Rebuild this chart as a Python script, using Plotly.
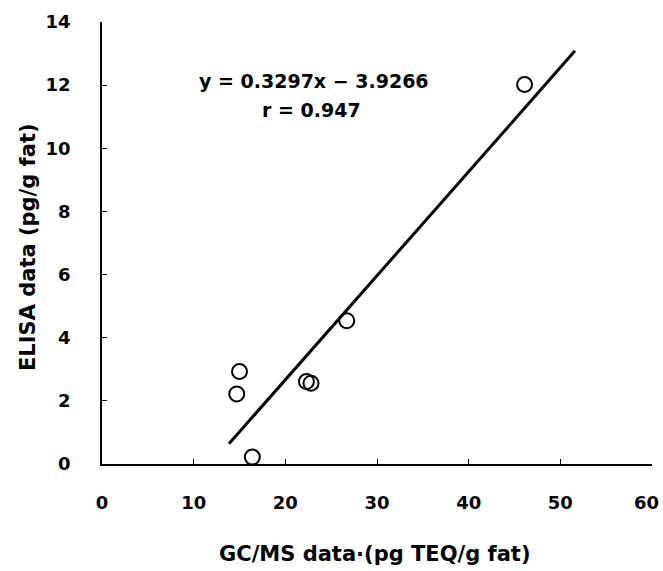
import plotly.graph_objects as go

gcms = [15.0, 14.7, 16.4, 22.3, 22.8, 26.7, 46.1]
elisa = [2.93, 2.22, 0.22, 2.61, 2.56, 4.54, 12.02]
slope = 0.3297
intercept = -3.9266
fit_x = [13.85, 51.6]
fit_y = [slope * v + intercept for v in fit_x]
x_ticks = [0, 10, 20, 30, 40, 50, 60]
y_ticks = [0, 2, 4, 6, 8, 10, 12, 14]

FONT = "DejaVu Sans"

# last x tick label is drawn as an annotation (nudged left so it stays inside the page)
x_ticktext = [f"<b>{v}</b>" for v in x_ticks[:-1]] + [""]

fig = go.Figure()
fig.add_trace(go.Scatter(x=fit_x, y=fit_y, mode="lines",
                         line=dict(color="black", width=3), showlegend=False))
fig.add_trace(go.Scatter(x=gcms, y=elisa, mode="markers",
                         marker=dict(symbol="circle-open", size=15, color="black",
                                     line=dict(width=2, color="black")),
                         showlegend=False))

fig.add_annotation(x=x_ticks[-1], y=-0.0882, xref="x", yref="paper", xshift=-6,
                   text=f"<b>{x_ticks[-1]}</b>", showarrow=False,
                   xanchor="center", yanchor="middle",
                   font=dict(family=FONT, size=18, color="black"))

fig.add_annotation(x=23.1, y=12.13, xref="x", yref="y",
                   text="<b>y = 0.3297x − 3.9266</b>", showarrow=False,
                   xanchor="center", yanchor="middle",
                   font=dict(family=FONT, size=19, color="black"))
fig.add_annotation(x=22.9, y=11.21, xref="x", yref="y",
                   text="<b>r = 0.947</b>", showarrow=False,
                   xanchor="center", yanchor="middle",
                   font=dict(family=FONT, size=19, color="black"))

# axis titles placed as annotations
fig.add_annotation(x=-0.1345, y=0.491, xref="paper", yref="paper",
                   text="<b>ELISA data (pg/g fat)</b>", showarrow=False, textangle=-90,
                   xanchor="center", yanchor="middle",
                   font=dict(family=FONT, size=21, color="black"))
fig.add_annotation(x=0.4964, y=-0.2036, xref="paper", yref="paper",
                   text="<b>GC/MS data·(pg TEQ/g fat)</b>", showarrow=False,
                   xanchor="center", yanchor="middle",
                   font=dict(family=FONT, size=21, color="black"))

fig.update_layout(
    width=663, height=571,
    margin=dict(l=102, r=11, t=22, b=107),
    plot_bgcolor="white", paper_bgcolor="white",
    font=dict(family=FONT, color="black"),
)
fig.update_xaxes(range=[0, 60], tickvals=x_ticks, ticktext=x_ticktext,
                 showline=True, linecolor="black", linewidth=1.5, mirror=False,
                 ticks="inside", ticklen=5, tickcolor="black", showgrid=False, zeroline=False,
                 tickfont=dict(family=FONT, size=18, color="black"), ticklabelstandoff=22,
                 ticklabeloverflow="allow", automargin=False)
fig.update_yaxes(range=[0, 14], tickvals=y_ticks, ticktext=[f"<b>{v}</b>" for v in y_ticks],
                 showline=True, linecolor="black", linewidth=1.5, mirror=False,
                 ticks="inside", ticklen=5, tickcolor="black", showgrid=False, zeroline=False,
                 tickfont=dict(family=FONT, size=18, color="black"), ticklabelstandoff=26,
                 ticklabeloverflow="allow", automargin=False)

fig.write_html("out.html", config={"displayModeBar": False},
               post_script="document.body.style.margin='0';")
